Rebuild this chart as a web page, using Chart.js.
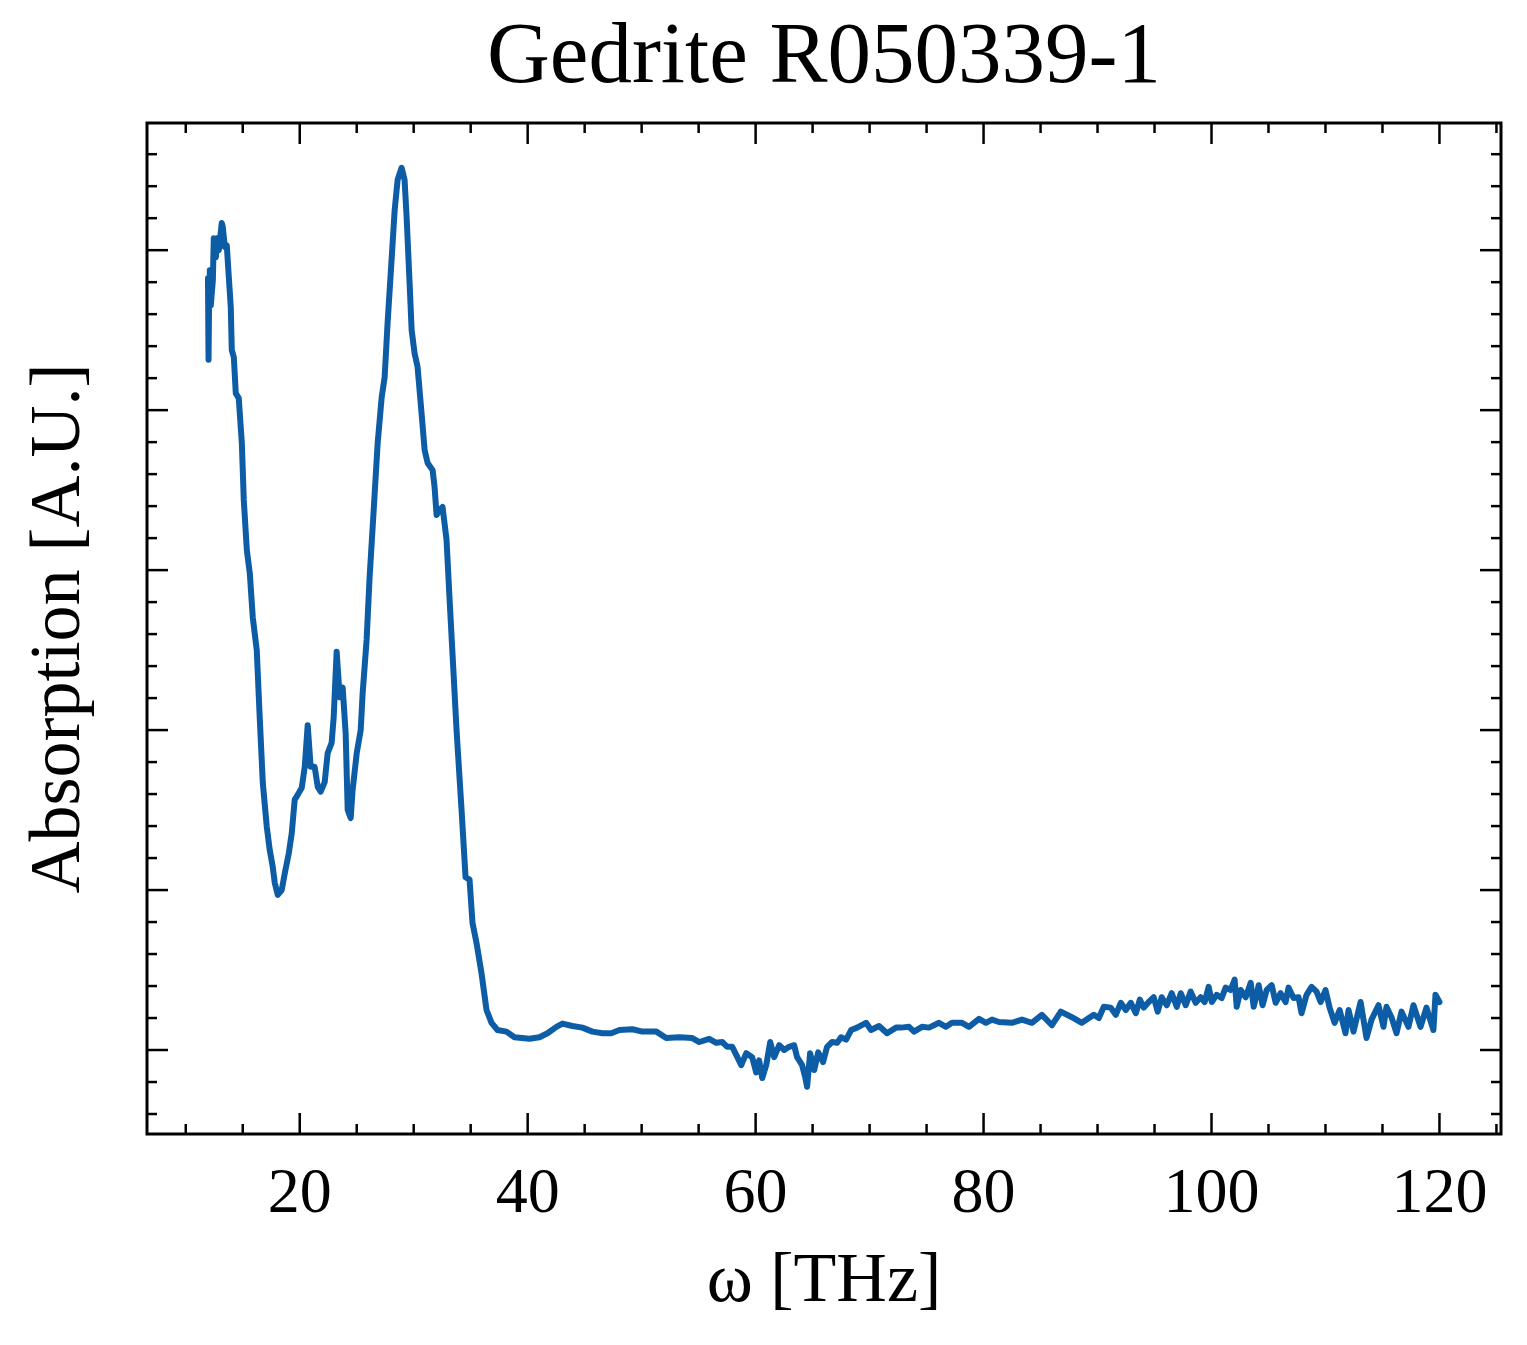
<!DOCTYPE html>
<html>
<head>
<meta charset="utf-8">
<script src="https://cdn.jsdelivr.net/npm/chart.js@4.4.1/dist/chart.umd.min.js"></script>
<style>
  body { margin: 0; background: #fff; }
  canvas { display: block; }
</style>
</head>
<body>
<canvas id="grafico" width="1527" height="1345"></canvas>
<script>
const omega = [
  11.95, 12.0, 12.05, 12.11, 12.2, 12.38, 12.46, 12.64, 12.73, 12.9,
  13.16, 13.25, 13.43, 13.6, 13.78, 13.95, 14.04, 14.22, 14.39, 14.65,
  14.92, 15.09, 15.36, 15.62, 15.88, 16.23, 16.49, 16.76, 17.11, 17.37,
  17.63, 17.81, 18.07, 18.42, 18.69, 19.04, 19.3, 19.56, 19.82, 20.18,
  20.44, 20.7, 20.96, 21.31, 21.58, 21.84, 22.19, 22.45, 22.8, 22.98,
  23.24, 23.51, 23.77, 24.03, 24.21, 24.47, 24.64, 25.0, 25.35, 25.52,
  25.87, 26.13, 26.49, 26.84, 27.19, 27.45, 27.71, 28.06, 28.33, 28.59,
  28.94, 29.2, 29.38, 29.64, 29.82, 30.08, 30.34, 30.69, 30.96, 31.22,
  31.66, 31.83, 32.01, 32.27, 32.53, 32.88, 33.15, 33.41, 33.76, 34.2,
  34.55, 34.9, 35.16, 35.51, 35.95, 36.39, 36.83, 37.35, 38.14, 38.84,
  40.16, 41.03, 41.74, 42.52, 43.05, 43.93, 44.8, 45.68, 46.56, 47.34,
  48.05, 49.19, 50.06, 51.29, 52.16, 53.3, 54.44,
  55.06, 55.93, 56.55, 57.07, 57.51, 57.95, 58.3, 58.74, 59.18, 59.7,
  60.05, 60.31, 60.58, 60.93, 61.28, 61.63, 62.07, 62.51, 62.94, 63.38,
  63.64, 64.08, 64.35, 64.52, 64.78, 65.14, 65.49, 65.92, 66.27, 66.71,
  67.15, 67.5, 67.94, 68.38, 68.9, 69.69, 70.13, 70.83, 71.53, 72.32,
  72.76, 73.46, 73.9, 74.6, 75.21, 76.09, 76.7, 77.23, 78.11, 78.72,
  79.6, 80.21, 80.74, 81.35, 82.49, 83.37, 84.24, 85.12, 86.0, 86.78,
  87.75, 88.62,
  89.24, 89.67, 90.11, 90.55, 91.16, 91.6, 92.04, 92.48, 92.92, 93.36,
  93.71, 94.06, 94.49, 94.93, 95.28, 95.63, 96.07, 96.51, 96.95, 97.3,
  97.74, 98.17, 98.61, 99.05, 99.4, 99.75, 100.02, 100.45, 100.89, 101.24,
  101.68, 102.03, 102.21, 102.56, 103.0, 103.44, 103.7, 104.14, 104.48, 104.84,
  105.28, 105.63, 106.06, 106.5, 106.76, 107.2, 107.64, 107.9, 108.34, 108.78,
  109.22, 109.57, 110.0, 110.36, 110.8,
  111.24, 111.76, 112.02, 112.46, 113.08, 113.6, 114.04, 114.65, 115.09, 115.35,
  115.79, 116.23, 116.67, 117.28, 117.72, 118.34, 118.86, 119.47, 119.65, 120.0
];

const absorcion = [
  0.965, 0.863, 0.938, 0.975, 0.931, 0.963, 1.015, 0.991, 1.015, 1.0,
  1.034, 1.029, 1.004, 1.006, 0.966, 0.929, 0.875, 0.866, 0.821, 0.815,
  0.759, 0.688, 0.625, 0.596, 0.541, 0.5, 0.416, 0.334, 0.279, 0.25,
  0.229, 0.209, 0.194, 0.2, 0.221, 0.246, 0.271, 0.313, 0.319, 0.328,
  0.354, 0.406, 0.354, 0.354, 0.329, 0.323, 0.335, 0.371, 0.384, 0.416,
  0.498, 0.441, 0.453, 0.396, 0.3, 0.29, 0.325, 0.371, 0.4, 0.446,
  0.513, 0.591, 0.675, 0.759, 0.816, 0.841, 0.909, 0.988, 1.05, 1.088,
  1.103, 1.088, 1.041, 0.959, 0.9, 0.871, 0.854, 0.796, 0.75, 0.734,
  0.725, 0.704, 0.669, 0.675, 0.679, 0.638, 0.563, 0.494, 0.4, 0.3,
  0.216, 0.213, 0.159, 0.134, 0.096, 0.05, 0.034, 0.025, 0.023, 0.016,
  0.014, 0.016, 0.021, 0.029, 0.033, 0.03, 0.028, 0.023, 0.021, 0.021,
  0.025, 0.026, 0.023, 0.023, 0.015, 0.016, 0.015,
  0.010, 0.014, 0.009, 0.010, 0.004, 0.004, -0.006, -0.019, -0.004, -0.009,
  -0.028, -0.013, -0.035, -0.019, 0.010, -0.009, 0.006, 0.000, 0.004, 0.006,
  -0.009, -0.019, -0.034, -0.046, -0.004, -0.025, -0.003, -0.015, 0.004, 0.010,
  0.009, 0.016, 0.013, 0.025, 0.028, 0.034, 0.025, 0.030, 0.021, 0.028,
  0.028, 0.029, 0.023, 0.029, 0.028, 0.034, 0.029, 0.034, 0.034, 0.029,
  0.039, 0.034, 0.038, 0.035, 0.034, 0.038, 0.034, 0.044, 0.031, 0.048,
  0.041, 0.034,
  0.040, 0.044, 0.040, 0.054, 0.053, 0.044, 0.059, 0.050, 0.059, 0.046,
  0.063, 0.053, 0.060, 0.066, 0.048, 0.066, 0.056, 0.071, 0.054, 0.071,
  0.056, 0.073, 0.059, 0.066, 0.060, 0.079, 0.060, 0.069, 0.065, 0.078,
  0.075, 0.088, 0.054, 0.075, 0.066, 0.084, 0.054, 0.081, 0.056, 0.075,
  0.081, 0.059, 0.071, 0.060, 0.078, 0.065, 0.066, 0.046, 0.069, 0.079,
  0.073, 0.060, 0.075, 0.053, 0.034,
  0.050, 0.021, 0.050, 0.023, 0.060, 0.015, 0.038, 0.056, 0.029, 0.054,
  0.041, 0.021, 0.048, 0.029, 0.056, 0.029, 0.053, 0.025, 0.069, 0.060
];

const ticksX = [20, 40, 60, 80, 100, 120];
const ticksXMenores = [10, 15, 25, 30, 35, 45, 50, 55, 65, 70, 75, 85, 90, 95, 105, 110, 115, 125];
const ticksY = [0, 0.2, 0.4, 0.6, 0.8, 1.0];
const ticksYMenores = [-0.08, -0.04, 0.04, 0.08, 0.12, 0.16, 0.24, 0.28, 0.32, 0.36, 0.44, 0.48,
  0.52, 0.56, 0.64, 0.68, 0.72, 0.76, 0.84, 0.88, 0.92, 0.96, 1.04, 1.08, 1.12];

const fuente = "'Liberation Serif', 'DejaVu Serif', serif";

// marco y ticks hacia dentro en los cuatro lados, estilo matplotlib
const marco = {
  id: 'marco',
  afterDraw(chart) {
    const { ctx, chartArea: a, scales: { x, y } } = chart;
    ctx.save();
    ctx.strokeStyle = '#000';
    ctx.lineCap = 'butt';

    const linea = (x1, y1, x2, y2) => {
      ctx.beginPath();
      ctx.moveTo(x1, y1);
      ctx.lineTo(x2, y2);
      ctx.stroke();
    };

    ctx.lineWidth = 2.5;
    const marcasX = (valores, largo) => valores.forEach(v => {
      const p = x.getPixelForValue(v);
      linea(p, a.bottom, p, a.bottom - largo);
      linea(p, a.top, p, a.top + largo);
    });
    const marcasY = (valores, largo) => valores.forEach(v => {
      const p = y.getPixelForValue(v);
      linea(a.left, p, a.left + largo, p);
      linea(a.right, p, a.right - largo, p);
    });
    marcasX(ticksX, 21);
    marcasX(ticksXMenores, 10);
    marcasY(ticksY, 21);
    marcasY(ticksYMenores, 10);

    ctx.lineWidth = 3;
    ctx.strokeRect(a.left, a.top, a.right - a.left, a.bottom - a.top);
    ctx.restore();
  }
};

const ctx = document.getElementById('grafico').getContext('2d');

new Chart(ctx, {
  type: 'line',
  data: {
    datasets: [{
      data: omega.map((w, i) => ({ x: w, y: absorcion[i] })),
      borderColor: '#0C5DA5',
      borderWidth: 6,
      pointRadius: 0,
      tension: 0,
      borderJoinStyle: 'round',
      borderCapStyle: 'round'
    }]
  },
  options: {
    responsive: false,
    animation: false,
    devicePixelRatio: 1,
    layout: { padding: { left: 0, right: 26, top: 0, bottom: 0 } },
    plugins: {
      legend: { display: false },
      tooltip: { enabled: false },
      title: {
        display: true,
        fullSize: false,
        text: 'Gedrite R050339-1',
        color: '#000',
        font: { family: fuente, size: 87, weight: 'normal', lineHeight: 1 },
        padding: { top: 16, bottom: 20 }
      }
    },
    scales: {
      x: {
        type: 'linear',
        min: 6.6,
        max: 125.4,
        afterFit: s => { s.height = 211; },
        grid: { display: false },
        border: { display: false },
        ticks: {
          stepSize: 20,
          includeBounds: false,
          autoSkip: false,
          maxRotation: 0,
          color: '#000',
          padding: 21,
          font: { family: fuente, size: 64, lineHeight: 1 }
        },
        title: {
          display: true,
          text: 'ω [THz]',
          color: '#000',
          font: { family: fuente, size: 70, lineHeight: 1 },
          padding: { top: 0, bottom: 27 }
        }
      },
      y: {
        type: 'linear',
        min: -0.105,
        max: 1.159,
        afterFit: s => { s.width = 147; },
        grid: { display: false },
        border: { display: false },
        ticks: { display: false },
        title: {
          display: true,
          text: 'Absorption [A.U.]',
          color: '#000',
          font: { family: fuente, size: 72, lineHeight: 1 },
          padding: { top: 24, bottom: 0 }
        }
      }
    }
  },
  plugins: [marco]
});
</script>
</body>
</html>
